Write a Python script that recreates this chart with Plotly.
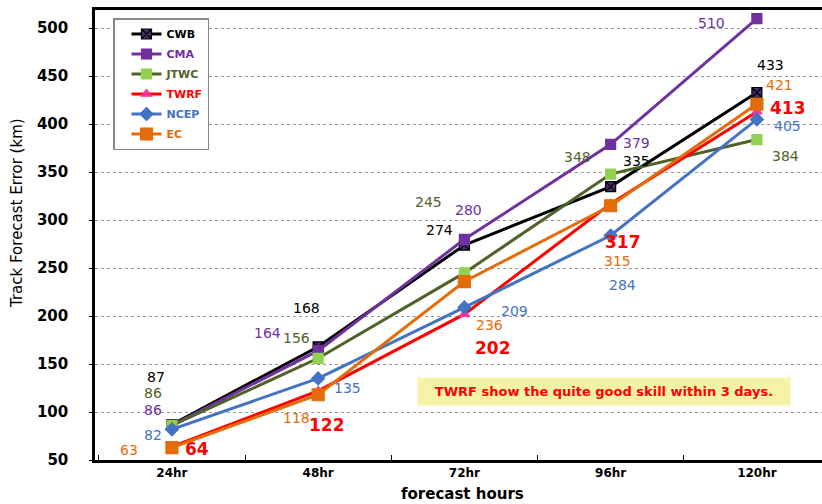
import plotly.graph_objects as go

hours = ["24hr", "48hr", "72hr", "96hr", "120hr"]
cwb = [87, 168, 274, 335, 433]
cma = [86, 164, 280, 379, 510]
jtwc = [86, 156, 245, 348, 384]
twrf = [64, 122, 202, 317, 413]
ncep = [82, 135, 209, 284, 405]
ec = [63, 118, 236, 315, 421]

FONT = "Comic Sans MS, DejaVu Sans, sans-serif"

series = [
    # name, values, line colour, marker colour, symbol, size, label colour, bold, label pixel offsets
    ("CWB", cwb, "#000000", "#4b2a6e", "square-x", 10, "#000000", False,
     [(-16, 48), (-12, 39), (-25, 15), (26, 26), (14, 28)]),
    ("CMA", cma, "#7030A0", "#7030A0", "square", 10, "#7030A0", False,
     [(-19, 15), (-51, 18), (4, 29), (26, 1), (-45, -4)]),
    ("JTWC", jtwc, "#4F6228", "#92D050", "square", 10, "#4F6228", False,
     [(-19, 32), (-22, 20), (-36, 71), (-33, 17), (29, -16)]),
    ("TWRF", twrf, "#FF0000", "#FF3399", "triangle-up", 9, "#FF0000", True,
     [(25, -2), (9, -34), (29, -34), (12, -38), (31, 4)]),
    ("NCEP", ncep, "#4472C4", "#4472C4", "diamond", 10, "#4472C4", False,
     [(-19, -6), (29, -10), (50, -4), (12, -50), (31, -7)]),
    ("EC", ec, "#E46C0A", "#E46C0A", "square", 12, "#E46C0A", False,
     [(-43, -2), (-22, -23), (25, -43), (7, -55), (23, 19)]),
]

fig = go.Figure()
annotations = []
for name, vals, lc, mc, sym, sz, tc, bold, offs in series:
    fig.add_trace(go.Scatter(
        x=hours, y=vals, mode="lines+markers",
        name=f"<span style='color:{lc}'><b>{name}</b></span>",
        legendgroup=name,
        line=dict(color=lc, width=3),
        marker=dict(symbol=sym, size=sz, color=mc,
                    line=dict(color="#000000" if name == "CWB" else mc, width=1.2)),
    ))
    for h, v, (dx, dy) in zip(hours, vals, offs):
        txt = f"<b>{v}</b>" if bold else str(v)
        annotations.append(dict(
            x=h, y=v, xref="x", yref="y", text=txt, showarrow=False,
            xshift=dx, yshift=dy,
            font=dict(family=FONT, size=17 if bold else 14, color=tc),
        ))

PW, PH = 735, 450  # plot area size in px (right part runs past the window edge)

annotations.append(dict(
    xref="paper", yref="paper", x=(604 - 95) / PW, y=(460 - 391) / PH,
    xanchor="center", yanchor="middle",
    text="<b>TWRF show the quite good skill within 3 days.</b>",
    showarrow=False, bgcolor="#F7F3A6", borderpad=6, width=360,
    font=dict(family=FONT, size=13, color="#FF0000"),
))
annotations.append(dict(
    xref="paper", yref="paper", x=(17 - 95) / PW, y=(460 - 213) / PH,
    xanchor="center", yanchor="middle",
    text="Track Forecast Error (km)", textangle=-90, showarrow=False,
    font=dict(family=FONT, size=15, color="#000000"),
))
annotations.append(dict(
    xref="paper", yref="paper", x=(462 - 95) / PW, y=-34 / PH,
    xanchor="center", yanchor="middle",
    text="<b>forecast hours</b>", showarrow=False,
    font=dict(family=FONT, size=15, color="#000000"),
))

fig.update_layout(
    width=830, height=504,
    margin=dict(l=95, r=0, t=10, b=44),
    paper_bgcolor="white", plot_bgcolor="white",
    font=dict(family=FONT, color="#000000"),
    showlegend=True,
    legend=dict(
        x=(113 - 95) / PW, y=(460 - 18) / PH, xanchor="left", yanchor="top",
        bgcolor="white", bordercolor="#888888", borderwidth=1.5,
        font=dict(family=FONT, size=11), itemwidth=30, tracegroupgap=1,
        entrywidth=74, indentation=12,
    ),
    annotations=annotations,
)
fig.update_xaxes(
    type="category", range=[-0.526, 4.5], automargin=False,
    showline=True, linecolor="#000000", linewidth=2.5, mirror=True,
    showgrid=False, ticks="inside", tickson="boundaries", ticklen=5,
    tickcolor="#000000", tickwidth=1,
    tickfont=dict(family=FONT, size=12, color="#000000", weight="bold"),
)
fig.update_yaxes(
    range=[50, 519], dtick=50, tick0=50, automargin=False,
    showline=True, linecolor="#000000", linewidth=2.5, mirror=False,
    showgrid=True, gridcolor="#999999", griddash="dot", gridwidth=1,
    ticks="outside", ticklen=3, tickcolor="#000000", ticklabelstandoff=18,
    tickfont=dict(family=FONT, size=15, color="#000000", weight="bold"),
    zeroline=False,
)

fig.write_html(
    "out.html",
    config={"displayModeBar": False},
    post_script="document.body.style.margin='0';document.body.style.overflow='hidden';",
)
